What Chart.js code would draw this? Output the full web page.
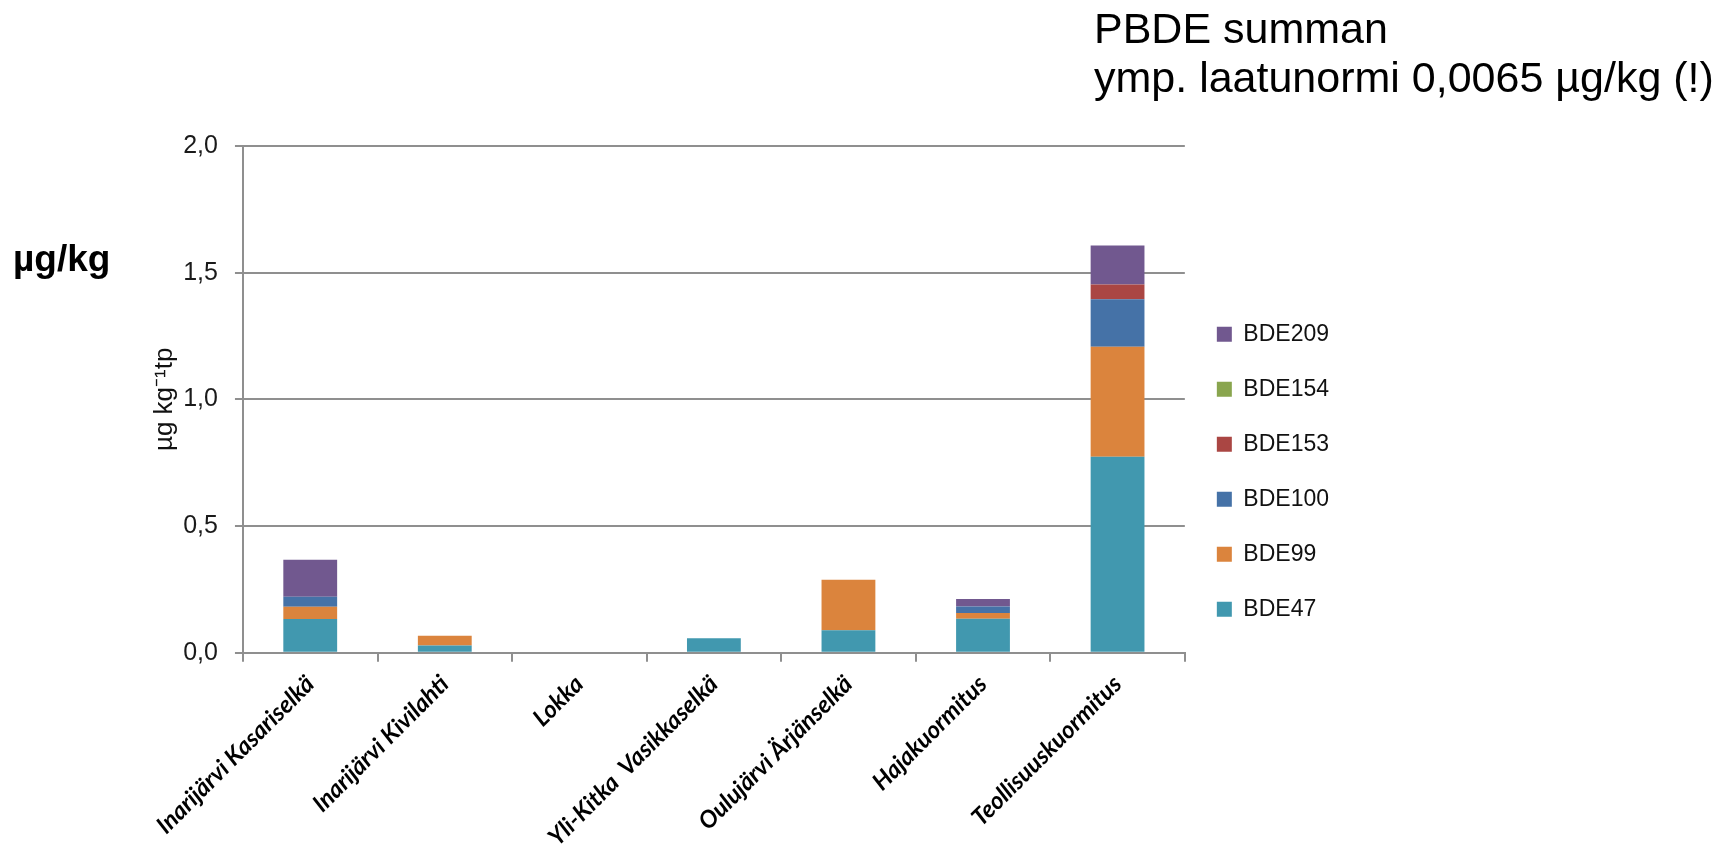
<!DOCTYPE html>
<html>
<head>
<meta charset="utf-8">
<script src="https://cdn.jsdelivr.net/npm/chart.js@4"></script>
<style>
  html, body { margin: 0; padding: 0; background: #ffffff; }
  #wrap { position: relative; width: 1728px; height: 854px; overflow: hidden; }
  #chart { position: absolute; left: 0; top: 0; }
  .note { position: absolute; font-family: "Liberation Sans", Arial, sans-serif; color: #000; white-space: nowrap; }
  #headline { left: 1094px; top: 4px; font-size: 43px; line-height: 49px; }
  #unit { left: 13px; top: 238px; font-size: 37px; font-weight: bold; line-height: 42px; }
</style>
</head>
<body>
<div id="wrap">
  <canvas id="chart" width="1728" height="854"></canvas>
  <div id="headline" class="note">PBDE summan<br>ymp. laatunormi 0,0065 µg/kg (!)</div>
  <div id="unit" class="note">µg/kg</div>
</div>
<script>
// Sampling sites / load types along the x axis
const categories = [
  'Inarijärvi Kasariselkä',
  'Inarijärvi Kivilahti',
  'Lokka',
  'Yli-Kitka  Vasikkaselkä',
  'Oulujärvi Ärjänselkä',
  'Hajakuormitus',
  'Teollisuuskuormitus'
];

// PBDE congener concentrations, µg/kg dry weight
const bde47  = [0.133, 0.028, 0, 0.057, 0.089, 0.134, 0.773];
const bde99  = [0.048, 0.039, 0, 0,     0.199, 0.023, 0.435];
const bde100 = [0.040, 0,     0, 0,     0,     0.025, 0.187];
const bde153 = [0,     0,     0, 0,     0,     0,     0.058];
const bde154 = [0,     0,     0, 0,     0,     0,     0];
const bde209 = [0.146, 0,     0, 0,     0,     0.030, 0.154];

// Y axis ticks
const yTicks = [0, 0.5, 1.0, 1.5, 2.0];

const seriesNames  = ['BDE47', 'BDE99', 'BDE100', 'BDE153', 'BDE154', 'BDE209'];
const seriesValues = [bde47, bde99, bde100, bde153, bde154, bde209];
const seriesColors = ['#4198AF', '#DB843D', '#4572A7', '#AA4643', '#89A54E', '#71588F'];

const axisGray = '#8f8f8f';

new Chart(document.getElementById('chart'), {
  type: 'bar',
  data: {
    labels: categories,
    datasets: seriesNames.map((name, i) => ({
      label: name,
      data: seriesValues[i],
      backgroundColor: seriesColors[i],
      borderWidth: 0,
      categoryPercentage: 1.0,
      barPercentage: 0.4
    }))
  },
  options: {
    responsive: false,
    animation: false,
    devicePixelRatio: 1,
    layout: { padding: { top: 146, left: 145, right: 389, bottom: -6 } },
    plugins: {
      tooltip: { enabled: false },
      title: { display: false },
      legend: {
        position: 'right',
        align: 'end',
        fullSize: false,
        reverse: true,
        labels: {
          boxWidth: 15,
          boxHeight: 15,
          padding: 32,
          color: '#111',
          font: { family: '"Liberation Sans", Arial, sans-serif', size: 23 }
        }
      }
    },
    scales: {
      x: {
        stacked: true,
        offset: true,
        border: { display: true, color: axisGray, width: 2 },
        grid: {
          display: true,
          drawOnChartArea: false,
          drawTicks: true,
          tickLength: 9,
          color: axisGray,
          lineWidth: 2,
          offset: true
        },
        ticks: {
          autoSkip: false,
          maxRotation: 45,
          minRotation: 45,
          padding: 10,
          color: '#000',
          font: { family: 'Lato, "Liberation Sans", sans-serif', size: 24, weight: 'bold', style: 'italic', lineHeight: 1.0 }
        }
      },
      y: {
        stacked: true,
        min: 0,
        max: 2,
        afterBuildTicks: (scale) => { scale.ticks = yTicks.map(v => ({ value: v })); },
        border: { display: true, color: axisGray, width: 2 },
        grid: {
          color: axisGray,
          lineWidth: 2,
          drawTicks: true,
          tickLength: 8
        },
        ticks: {
          padding: 17,
          color: '#1a1a1a',
          font: { family: '"Liberation Sans", Arial, sans-serif', size: 25 },
          callback: (v) => Number(v).toFixed(1).replace('.', ',')
        },
        title: {
          display: true,
          text: 'µg kg⁻¹tp',
          color: '#111',
          padding: { top: 4, bottom: -14 },
          font: { family: '"Liberation Sans", Arial, sans-serif', size: 26 }
        }
      }
    }
  }
});
</script>
</body>
</html>
